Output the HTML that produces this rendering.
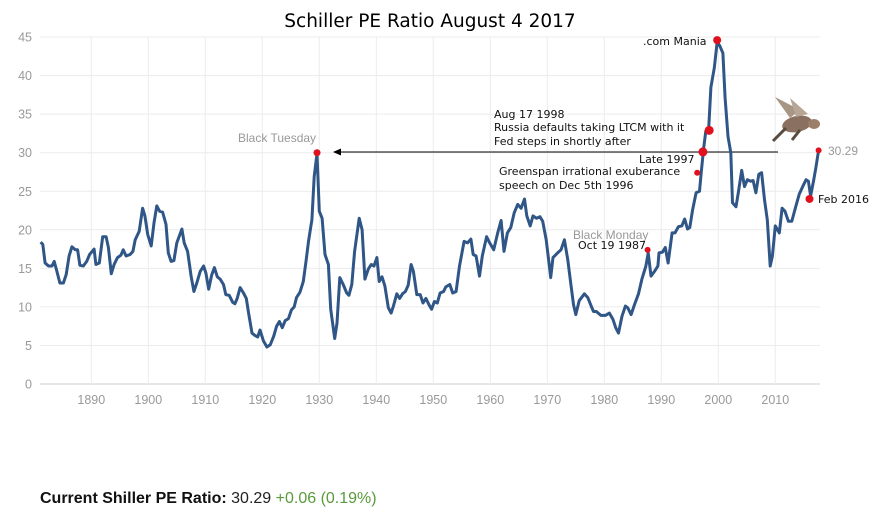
<!DOCTYPE html>
<html><head><meta charset="utf-8"><style>
html,body{margin:0;padding:0;background:#fff;width:896px;height:511px;overflow:hidden;}
svg{display:block;}
.ann{font-family:"DejaVu Sans",sans-serif;font-size:11px;fill:#111;}
.gray{font-family:"Liberation Sans",sans-serif;font-size:12px;fill:#999;}
.tick{font-family:"Liberation Sans",sans-serif;font-size:12.5px;fill:#999;}
</style></head><body>
<svg id="chart" width="896" height="511">
<text x="430" y="27" text-anchor="middle" font-family="'DejaVu Sans',sans-serif" font-size="18.5" fill="#000">Schiller PE Ratio August 4 2017</text>
<g id="grid"></g><g id="xt"></g><g id="yt"></g>
<line x1="778" y1="152" x2="340" y2="152" stroke="#000" stroke-width="1"/>
<polygon points="333,152 341,148.5 341,155.5" fill="#000"/>
<path id="line" fill="none" stroke="#2f5686" stroke-width="3" stroke-linejoin="round"/>
<g id="dots"></g>
<text class="gray" x="238" y="142">Black Tuesday</text>
<text class="ann" x="643" y="45">.com Mania</text>
<text class="ann" x="494" y="118">Aug 17 1998</text>
<text class="ann" x="494" y="131">Russia defaults taking LTCM with it</text>
<text class="ann" x="494" y="145">Fed steps in shortly after</text>
<text class="ann" x="639" y="163" font-size="12">Late 1997</text>
<text class="ann" x="499" y="175">Greenspan irrational exuberance</text>
<text class="ann" x="499" y="189">speech on Dec 5th 1996</text>
<text x="573" y="239" font-family="'Liberation Sans',sans-serif" font-size="12" fill="#999">Black Monday</text>
<text class="ann" x="578" y="249" font-size="10">Oct 19 1987</text>
<text class="ann" x="818" y="203">Feb 2016</text>
<text class="gray" x="828" y="155">30.29</text>
<g>
<ellipse cx="797" cy="124" rx="15" ry="8" fill="#8a7060" transform="rotate(-12 797 124)"/>
<ellipse cx="814" cy="124" rx="6" ry="5" fill="#9c7e6a"/>
<polygon points="790,118 775,97 800,110" fill="#a89684"/>
<polygon points="796,117 790,98 808,114" fill="#b7a595"/>
<line x1="786" y1="128" x2="773" y2="141" stroke="#5b4a3e" stroke-width="3"/>
<line x1="800" y1="130" x2="792" y2="140" stroke="#5b4a3e" stroke-width="3"/>
</g>
<text x="40" y="503" font-family="'Liberation Sans',sans-serif" font-size="16"><tspan font-weight="bold" fill="#111">Current Shiller PE Ratio:</tspan><tspan fill="#222"> 30.29 </tspan><tspan fill="#5a9a3c">+0.06 (0.19%)</tspan></text>
</svg>
<script>
const years=[1881.1,1881.5,1881.9,1882.5,1883.1,1883.5,1883.9,1884.5,1885.1,1885.6,1886.1,1886.6,1887.2,1887.6,1888.0,1888.6,1889.2,1889.7,1890.5,1890.8,1891.4,1892.0,1892.6,1893.0,1893.5,1894.0,1894.6,1895.2,1895.6,1896.1,1896.8,1897.3,1897.7,1898.4,1899.0,1899.4,1899.9,1900.5,1901.0,1901.5,1902.0,1902.5,1903.1,1903.5,1904.0,1904.5,1905.0,1905.9,1906.3,1906.9,1907.5,1908.0,1908.5,1909.1,1909.7,1910.1,1910.6,1911.1,1911.6,1912.1,1912.6,1913.2,1913.6,1914.2,1914.8,1915.2,1915.6,1916.1,1916.7,1917.2,1917.6,1918.2,1918.7,1919.2,1919.6,1920.2,1920.8,1921.4,1922.0,1922.5,1923.0,1923.5,1924.0,1924.6,1925.1,1925.6,1926.0,1926.6,1927.2,1927.7,1928.1,1928.7,1929.1,1929.6,1930.0,1930.5,1931.0,1931.6,1932.0,1932.7,1933.1,1933.6,1934.2,1934.8,1935.2,1935.7,1936.2,1937.0,1937.5,1938.0,1938.6,1939.1,1939.6,1940.1,1940.5,1941.0,1941.5,1942.1,1942.6,1943.0,1943.6,1944.1,1944.6,1945.1,1945.6,1946.1,1946.5,1947.1,1947.7,1948.2,1948.7,1949.3,1949.7,1950.2,1950.7,1951.2,1951.8,1952.2,1952.9,1953.4,1954.0,1954.6,1955.4,1956.0,1956.6,1957.0,1957.5,1958.1,1958.6,1959.35,1959.9,1960.6,1961.3,1961.9,1962.4,1963.0,1963.6,1964.2,1964.8,1965.4,1966.0,1966.4,1967.0,1967.5,1968.1,1968.7,1969.2,1969.8,1970.3,1970.6,1971.0,1971.8,1972.4,1973.0,1973.6,1974.1,1974.6,1975.0,1975.6,1976.5,1977.1,1977.7,1978.1,1978.6,1979.4,1980.2,1980.9,1981.5,1982.0,1982.5,1983.1,1983.7,1984.1,1984.7,1985.3,1986.0,1986.6,1987.3,1987.7,1988.2,1988.8,1989.4,1989.6,1990.2,1990.7,1991.2,1991.9,1992.4,1993.0,1993.6,1994.1,1994.6,1995.0,1995.5,1996.1,1996.7,1997.0,1997.4,1997.8,1998.3,1998.7,1999.3,1999.8,2000.3,2000.8,2001.2,2001.7,2002.2,2002.5,2003.1,2003.5,2004.1,2004.6,2005.1,2005.7,2006.1,2006.6,2007.1,2007.6,2008.1,2008.6,2009.1,2009.5,2010.0,2010.7,2011.2,2011.7,2012.3,2012.9,2013.5,2014.2,2014.8,2015.4,2015.8,2016.2,2016.7,2017.1,2017.6];
const peValues=[18.4,18.1,15.7,15.3,15.3,15.9,14.8,13.1,13.1,14.2,16.6,17.8,17.4,17.4,15.4,15.3,15.9,16.8,17.5,15.5,15.7,19.1,19.1,17.7,14.3,15.5,16.4,16.7,17.4,16.6,16.8,17.2,18.7,19.8,22.8,21.8,19.4,17.9,20.9,23.1,22.4,22.3,20.7,17.0,15.9,16.0,18.3,20.1,18.3,17.2,14.0,12.0,13.1,14.6,15.3,14.4,12.3,14.1,15.1,13.9,13.6,12.9,11.6,11.5,10.6,10.4,11.1,12.5,11.8,11.1,9.2,6.6,6.3,6.1,7.0,5.6,4.8,5.1,6.2,7.5,8.1,7.3,8.2,8.5,9.6,10.0,11.2,11.9,13.3,16.1,18.5,21.3,26.9,29.9,22.4,21.5,16.8,15.5,9.7,5.9,7.9,13.8,12.9,11.8,11.5,12.9,17.2,21.5,20.0,13.6,14.9,15.5,15.3,16.4,13.3,13.9,12.7,9.9,9.2,10.1,11.7,11.1,11.7,12.0,12.8,15.5,14.6,11.6,11.6,10.5,11.1,10.2,9.7,10.7,10.5,11.8,12.0,12.6,12.9,11.8,12.0,15.3,18.5,18.3,18.8,16.8,16.6,14.0,16.6,19.1,18.3,17.4,19.6,21.2,17.2,19.6,20.3,22.2,23.3,22.8,24.0,21.8,20.5,21.8,21.5,21.7,21.1,18.7,15.7,13.8,16.4,17.0,17.4,18.7,16.1,13.1,10.3,9.0,10.8,11.7,11.2,10.1,9.4,9.4,8.9,8.9,9.2,8.4,7.3,6.6,8.8,10.1,9.9,9.0,10.3,11.7,13.6,15.3,17.0,14.0,14.6,15.3,17.0,17.1,17.7,15.7,19.6,19.6,20.4,20.5,21.4,20.1,20.3,22.6,24.8,25.0,27.4,30.4,32.8,32.9,38.5,41.0,44.4,43.8,42.9,37.1,32.1,30.0,23.5,23.0,24.8,27.7,25.6,26.5,26.3,26.4,24.8,27.2,27.4,23.9,21.3,15.3,16.6,20.5,19.6,22.8,22.4,21.1,21.1,22.8,24.6,25.6,26.5,26.3,24.4,26.3,28.0,30.3];
const markerYears=[1929.6,1999.8,1998.4,1997.3,1996.3,1987.6,2016.0,2017.6];
const markerValues=[30.0,44.6,32.9,30.1,27.4,17.4,24.0,30.3];
const markerSizes=[3.5,4,4.5,4.5,3,3,4,3];
const xTicks=[1890,1900,1910,1920,1930,1940,1950,1960,1970,1980,1990,2000,2010];
const yTicks=[0,5,10,15,20,25,30,35,40,45];

const NS="http://www.w3.org/2000/svg";
function xs(y){return 91.3+(y-1890)*5.7;}
function ys(v){return 384-v*7.71;}
const grid=document.getElementById('grid'),xt=document.getElementById('xt'),yt=document.getElementById('yt');
yTicks.forEach(t=>{
  const l=document.createElementNS(NS,'line');
  
  
  l.setAttribute('x1',40);l.setAttribute('x2',820);l.setAttribute('y1',ys(t));l.setAttribute('y2',ys(t));
  l.setAttribute('stroke',t===0?'#ccc':'#ececec');l.setAttribute('stroke-width',1);
  grid.appendChild(l);
  const tx=document.createElementNS(NS,'text');
  
  
  tx.setAttribute('x',32);tx.setAttribute('y',ys(t)+4.5);tx.setAttribute('text-anchor','end');
  tx.setAttribute('class','tick');tx.textContent=t;yt.appendChild(tx);
});
xTicks.forEach(t=>{
  const l=document.createElementNS(NS,'line');
  
  
  l.setAttribute('x1',xs(t));l.setAttribute('x2',xs(t));l.setAttribute('y1',37);l.setAttribute('y2',384);
  l.setAttribute('stroke','#ececec');l.setAttribute('stroke-width',1);
  grid.appendChild(l);
  const tx=document.createElementNS(NS,'text');
  
  
  tx.setAttribute('x',xs(t));tx.setAttribute('y',404);tx.setAttribute('text-anchor','middle');
  tx.setAttribute('class','tick');tx.textContent=t;xt.appendChild(tx);
});
let d='';
years.forEach((y,i)=>{d+=(i?'L':'M')+xs(y).toFixed(1)+','+ys(peValues[i]).toFixed(1);});
document.getElementById('line').setAttribute('d',d);
const dots=document.getElementById('dots');
markerYears.forEach((y,i)=>{
  const c=document.createElementNS(NS,'circle');
  
  
  c.setAttribute('cx',xs(y));c.setAttribute('cy',ys(markerValues[i]));c.setAttribute('r',markerSizes[i]);
  c.setAttribute('fill','#e0101e');dots.appendChild(c);
});
</script>
</body></html>
